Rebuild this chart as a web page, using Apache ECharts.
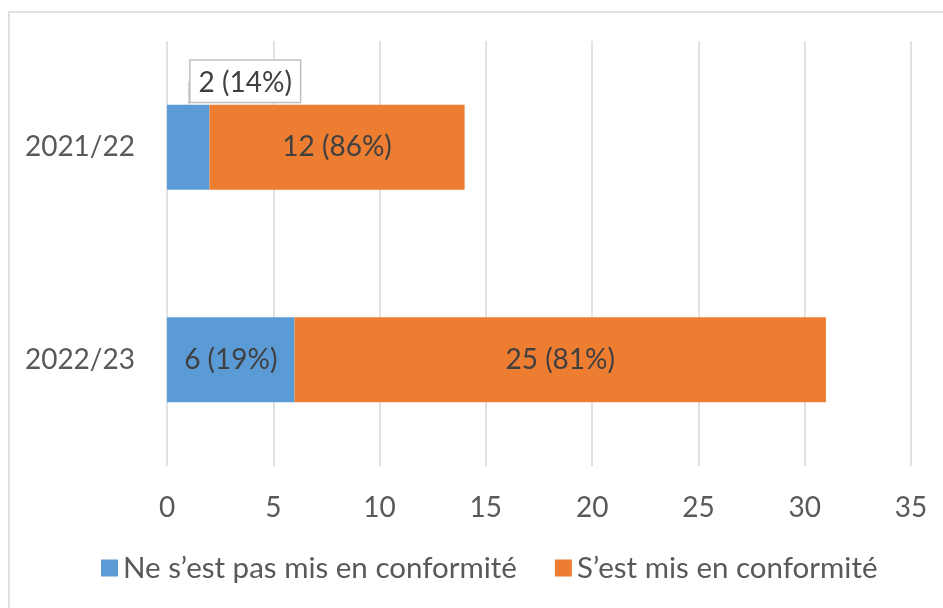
<!DOCTYPE html>
<html><head><meta charset="utf-8">
<script src="https://cdn.jsdelivr.net/npm/echarts@6/dist/echarts.min.js"></script>
<style>html,body{margin:0;padding:0;background:#fff}#c{width:943px;height:608px}</style>
</head><body><div id="c"></div>
<script>
const categories = ['2021/22', '2022/23'];
const seriesNames = ['Ne s\u2019est pas mis en conformité', 'S\u2019est mis en conformité'];
const notCompliant = [2, 6];
const compliant = [12, 25];
const xTicks = [0, 5, 10, 15, 20, 25, 30, 35];

const totals = categories.map((c, i) => notCompliant[i] + compliant[i]);
const pct = (v, i) => v + ' (' + Math.round(v / totals[i] * 100) + '%)';
const FONT = 'Lato';
const TXT = '#595959';
const FS = 28;

const chart = echarts.init(document.getElementById('c'));
chart.setOption({
  animation: false,
  textStyle: { fontFamily: FONT },
  graphic: [{ type: 'rect', shape: { x: 9, y: 12, width: 1000, height: 700 }, style: { fill: 'none', stroke: '#d9d9d9', lineWidth: 1.5 }, z: -1 }],
  grid: { left: 167, right: 32, top: 41, bottom: 142 },
  xAxis: {
    type: 'value', min: xTicks[0], max: xTicks[xTicks.length - 1], interval: 5,
    axisLine: { show: false }, axisTick: { show: false },
    splitLine: { lineStyle: { color: '#d9d9d9', width: 1.5 } },
    axisLabel: { color: TXT, fontSize: FS, fontFamily: FONT, margin: 28 }
  },
  yAxis: {
    type: 'category', data: categories, inverse: true,
    axisLine: { show: false }, axisTick: { show: false },
    axisLabel: { color: TXT, fontSize: FS, fontFamily: FONT, margin: 32 }
  },
  legend: {
    bottom: 20, left: 96, itemWidth: 17, itemHeight: 17, itemGap: 38,
    icon: 'rect',
    textStyle: { color: TXT, fontSize: 29.5, fontFamily: FONT }
  },
  series: [
    {
      name: seriesNames[0], type: 'bar', stack: 's', barWidth: '40%',
      itemStyle: { color: '#5B9BD5' },
      labelLayout: p => (p.dataIndex === 0 ? { dx: 57, dy: -3 } : {}),
      labelLine: { show: true, showAbove: true, lineStyle: { color: '#bfbfbf', width: 1.5 } },
      data: notCompliant.map((v, i) => {
        if (i === 0) {
          return {
            value: v,
            label: {
              show: true, position: 'top', distance: 0,
              formatter: () => pct(v, i),
              color: '#404040', fontSize: FS, fontFamily: FONT,
              backgroundColor: '#fff', borderColor: '#bfbfbf', borderWidth: 1.5,
              padding: [8, 8, 5, 8]
            }
          };
        }
        return { value: v, label: { show: true, position: 'inside', formatter: () => pct(v, i), color: '#404040', fontSize: FS, fontFamily: FONT } };
      })
    },
    {
      name: seriesNames[1], type: 'bar', stack: 's', barWidth: '40%',
      itemStyle: { color: '#ED7D31' },
      label: { show: true, position: 'inside', color: '#404040', fontSize: FS, fontFamily: FONT,
        formatter: p => pct(p.value, p.dataIndex) },
      data: compliant
    }
  ]
});
</script>
</body></html>
